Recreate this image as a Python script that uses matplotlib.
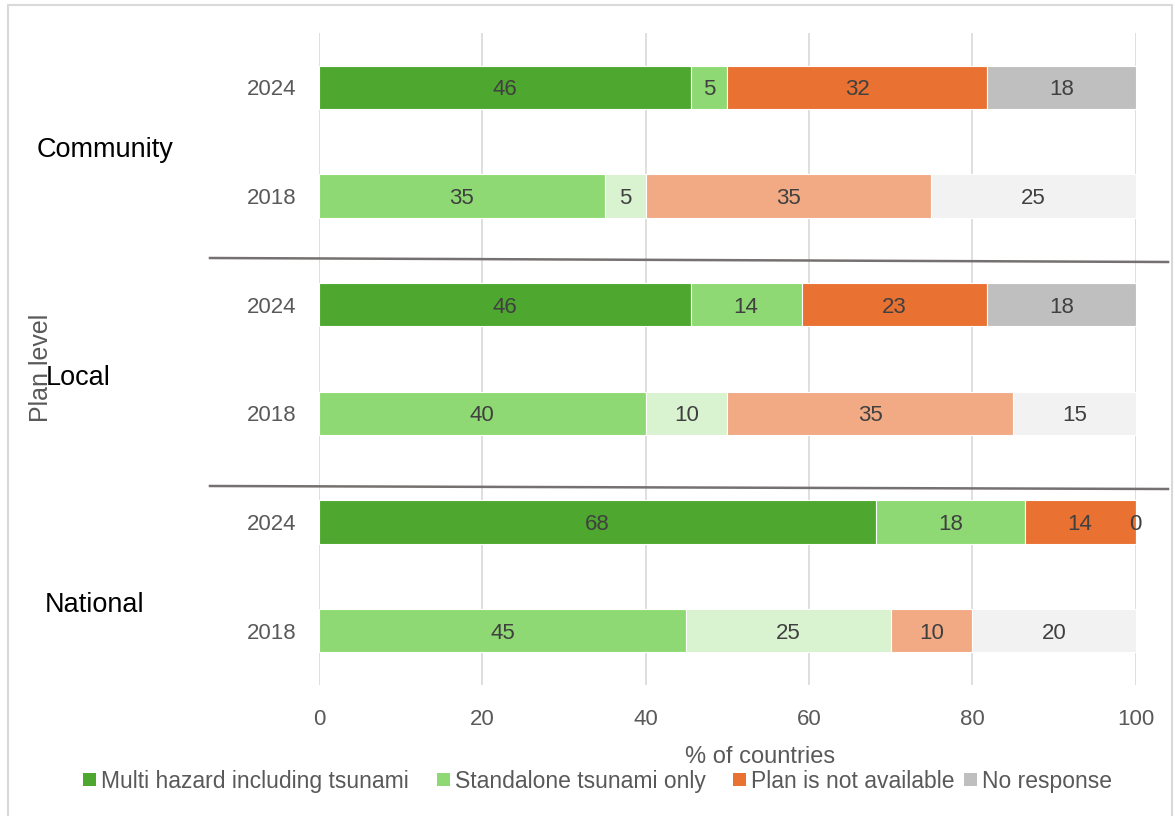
import matplotlib.pyplot as plt
from matplotlib.patches import Rectangle
from matplotlib.lines import Line2D

plt.rcParams['font.family'] = ['Liberation Sans', 'DejaVu Sans']

# bars from bottom to top: National 2018/2024, Local 2018/2024, Community 2018/2024
year_labels = ['2018', '2024', '2018', '2024', '2018', '2024']
groups = ['National', 'Local', 'Community']
series = ['Multi hazard including tsunami', 'Standalone tsunami only',
          'Plan is not available', 'No response']
multi = [45, 68.2, 40, 45.5, 35, 45.5]
standalone = [25, 18.2, 10, 13.6, 5, 4.5]
not_avail = [10, 13.6, 35, 22.7, 35, 31.8]
no_resp = [20, 0, 15, 18.2, 25, 18.2]

cols_2024 = ['#4EA72E', '#8ED973', '#E97132', '#BFBFBF']
cols_2018 = ['#8ED973', '#D9F2D0', '#F2AA84', '#F2F2F2']

fig = plt.figure(figsize=(11.75, 8.16), dpi=100)
ax = fig.add_axes([0.2715, 0.1605, 0.695, 0.799])

ypos = list(range(len(year_labels)))
left = [0] * len(ypos)
for i, vals in enumerate([multi, standalone, not_avail, no_resp]):
    colors = [cols_2018[i] if y == '2018' else cols_2024[i] for y in year_labels]
    bars = ax.barh(ypos, vals, left=left, height=0.4, color=colors,
                   edgecolor='white', linewidth=0.8, zorder=3)
    for b, v, l in zip(bars, vals, left):
        ax.text(l + v / 2, b.get_y() + b.get_height() / 2, str(int(v + 0.5)),
                ha='center', va='center_baseline', fontsize=16, color='#404040', zorder=4)
    left = [l + v for l, v in zip(left, vals)]

ax.set_xlim(0, 100)
ax.set_ylim(-0.5, 5.5)
ax.set_xticks(range(0, 101, 20))
ax.set_yticks(ypos, year_labels)
ax.tick_params(axis='both', length=0, labelsize=16, labelcolor='#595959')
ax.tick_params(axis='x', pad=17)
ax.tick_params(axis='y', pad=16)
ax.grid(axis='x', color='#D9D9D9', linewidth=1.2, zorder=0)
for s in ax.spines.values():
    s.set_visible(False)

ax.set_xlabel('% of countries', fontsize=17, color='#595959')
ax.xaxis.set_label_coords(0.54, -0.094)

# group labels and axis title
fig.text(37 / 1175, 1 - 150 / 816, 'Community', fontsize=19.5, va='center', ha='left')
fig.text(46 / 1175, 1 - 378 / 816, 'Local', fontsize=19.5, va='center', ha='left')
fig.text(45 / 1175, 1 - 605 / 816, 'National', fontsize=19.5, va='center', ha='left')
fig.text(41 / 1175, 1 - 368 / 816, 'Plan level', fontsize=18, color='#595959',
         rotation=90, va='center', ha='center')

# separator lines between groups
for y0, y1 in [(258, 262), (486, 489)]:
    fig.add_artist(Line2D([210 / 1175, 1168 / 1175], [1 - y0 / 816, 1 - y1 / 816],
                          transform=fig.transFigure, color='#767171', linewidth=1.8))

# outer frame
fig.add_artist(Rectangle((8 / 1175, -0.1), 1164 / 1175, 1.1 - 5 / 816,
                         transform=fig.transFigure, fill=False,
                         edgecolor='#D9D9D9', linewidth=1.5))

# legend drawn by hand so that all labels share one baseline
leg_x = [83, 437, 733, 964]
leg_y = 1 - 779 / 816
for x, c, name in zip(leg_x, cols_2024, series):
    fig.add_artist(Rectangle((x / 1175, leg_y - 6.5 / 816), 13 / 1175, 13 / 816,
                             transform=fig.transFigure, facecolor=c, edgecolor='none'))
    fig.text((x + 18) / 1175, leg_y, name, fontsize=16.5, color='#595959',
             va='center_baseline', ha='left')

fig.savefig('out.png', dpi=100)
